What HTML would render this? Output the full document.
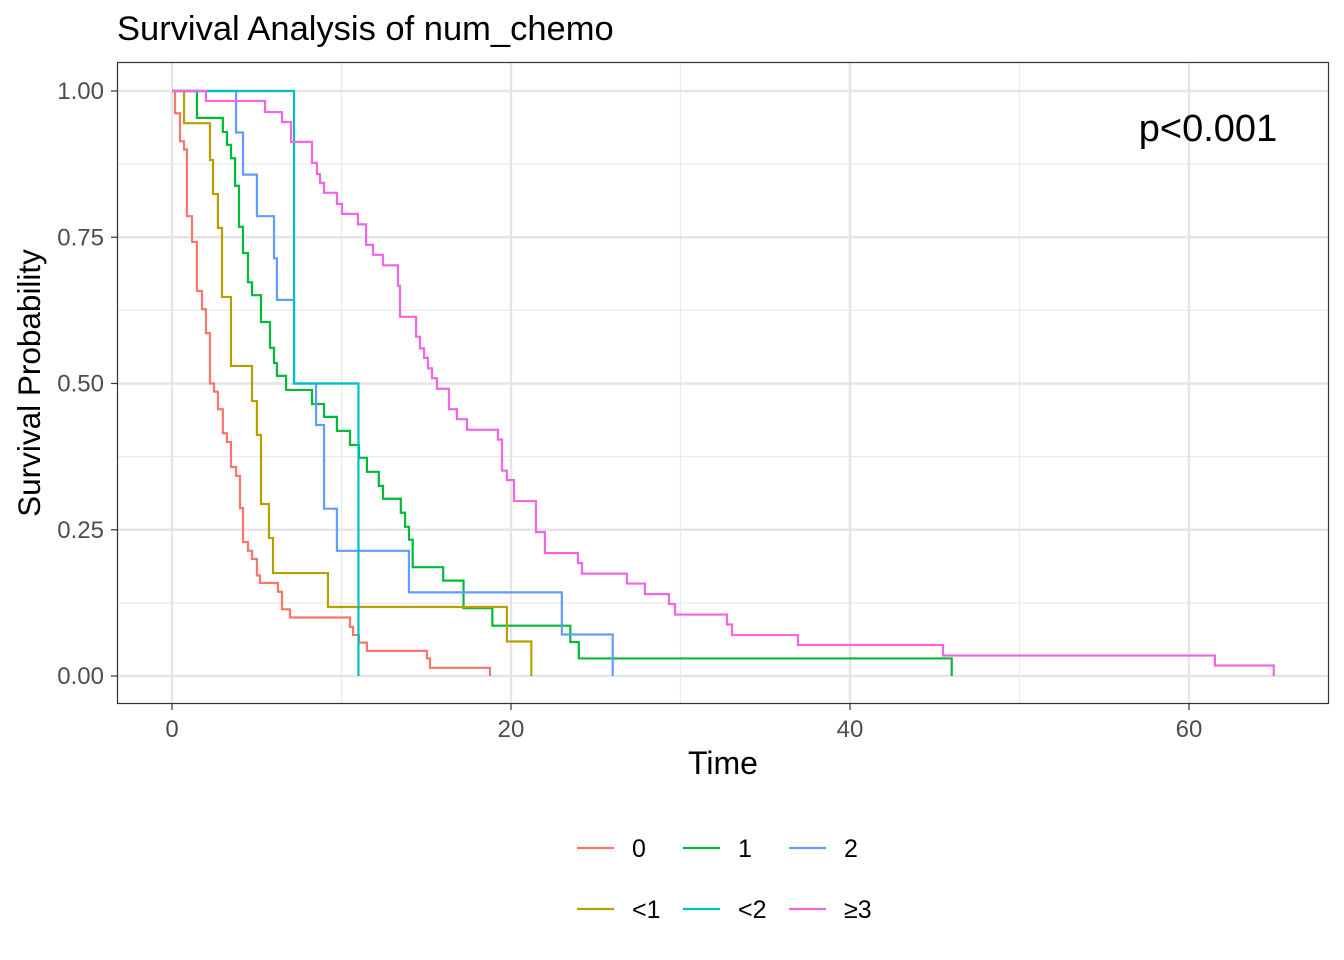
<!DOCTYPE html>
<html><head><meta charset="utf-8">
<style>
html,body{margin:0;padding:0;background:#fff;}
svg{display:block;font-family:"Liberation Sans",Arial,sans-serif;}
</style></head>
<body>
<svg id="chart" width="1344" height="960" viewBox="0 0 1344 960">
<text x="117" y="40" font-size="34.5" fill="#000">Survival Analysis of num_chemo</text>
<g id="grid"></g>
<g id="curves"></g>
<rect x="117.5" y="62.5" width="1211" height="641" fill="none" stroke="#333" stroke-width="1.2"/>
<g id="axes"></g>
<text x="1208" y="141" font-size="38" text-anchor="middle" fill="#000">p&lt;0.001</text>
<text x="723" y="774" font-size="32" text-anchor="middle" fill="#000">Time</text>
<text transform="translate(40,383) rotate(-90)" font-size="31.5" text-anchor="middle" fill="#000">Survival Probability</text>
<g id="legend"></g>
</svg>
<script>
const groups = ["0", "1", "2", "<1", "<2", "≥3"];
const colors = ["#F8766D", "#00BA38", "#619CFF", "#B79F00", "#00BFC4", "#F564E3"];
const xTicks = [0, 20, 40, 60];
const yTicks = [0, 0.25, 0.5, 0.75, 1];
const yTickLabels = ["0.00", "0.25", "0.50", "0.75", "1.00"];

const t0 = [0,0.18,0.47,0.71,0.88,1.18,1.47,1.77,2.0,2.24,2.48,2.71,3.0,3.24,3.48,3.78,4.01,4.19,4.48,4.72,5.01,5.19,6.25,6.49,6.96,10.5,10.68,11.03,11.5,15.04,15.22,18.76];
const s0 = [1,0.962,0.914,0.9,0.786,0.742,0.658,0.627,0.586,0.5,0.486,0.456,0.415,0.4,0.357,0.342,0.287,0.229,0.214,0.2,0.172,0.159,0.144,0.114,0.1,0.084,0.07,0.057,0.043,0.03,0.014,0];

const t1 = [0,1.47,3.0,3.24,3.48,3.72,3.95,4.19,4.48,4.72,5.25,5.78,6.02,6.19,6.73,8.26,8.97,9.73,10.5,11.03,11.5,12.2,12.45,13.5,13.75,13.98,14.2,16.0,17.2,18.9,23.5,24.0,46.0];
const s1 = [1,0.954,0.93,0.908,0.885,0.838,0.768,0.723,0.673,0.651,0.605,0.561,0.535,0.513,0.489,0.465,0.443,0.419,0.395,0.373,0.349,0.325,0.303,0.279,0.255,0.233,0.186,0.163,0.116,0.086,0.058,0.03,0];

const t2 = [0,3.78,4.19,5.01,6.02,6.19,7.2,8.5,8.97,9.73,13.98,23.0,26.0];
const s2 = [1,0.929,0.857,0.786,0.714,0.643,0.5,0.429,0.286,0.214,0.143,0.071,0];

const t3 = [0,0.71,2.24,2.42,2.71,2.95,3.48,4.72,5.01,5.25,5.72,5.96,9.2,19.76,21.2];
const s3 = [1,0.945,0.882,0.824,0.766,0.648,0.53,0.47,0.412,0.294,0.236,0.176,0.118,0.059,0];

const t4 = [0,7.2,11.0];
const s4 = [1,0.5,0];

const t5 = [0,2.0,5.49,6.49,7.02,8.26,8.55,8.73,8.97,9.73,10.03,10.97,11.45,11.86,12.45,13.33,13.45,14.4,14.63,14.87,15.1,15.34,15.63,16.34,16.81,17.4,19.23,19.47,19.76,20.18,21.47,22.0,23.95,24.19,26.84,27.9,29.32,29.68,32.74,33.04,36.93,45.49,61.53,65.0];
const s5 = [1,0.983,0.964,0.947,0.913,0.877,0.858,0.843,0.826,0.807,0.79,0.772,0.737,0.72,0.702,0.667,0.614,0.58,0.56,0.544,0.526,0.509,0.491,0.456,0.439,0.421,0.404,0.351,0.335,0.299,0.246,0.21,0.193,0.175,0.158,0.14,0.123,0.105,0.088,0.07,0.053,0.035,0.018,0];

const times = [t0, t1, t2, t3, t4, t5];
const survs = [s0, s1, s2, s3, s4, s5];

const NS = "http://www.w3.org/2000/svg";
function xs(t){ return 172 + t * 16.95; }
function ys(s){ return 676 - s * 585; }
function mk(tag, attrs, parent){
  const e = document.createElementNS(NS, tag);
  for (const k in attrs) e.setAttribute(k, attrs[k]);
  parent.appendChild(e);
  return e;
}
const grid = document.getElementById("grid");
const axes = document.getElementById("axes");
for (let i = 0; i < xTicks.length - 1; i++) {
  const v = (xTicks[i] + xTicks[i+1]) / 2;
  const l = mk("line", {x1: xs(v), x2: xs(v), y1: 62, y2: 704, stroke: "#ebebeb", "stroke-width": 1.2}, grid);
  
  
}
for (let i = 0; i < yTicks.length - 1; i++) {
  const v = (yTicks[i] + yTicks[i+1]) / 2;
  const l = mk("line", {x1: 117, x2: 1329, y1: ys(v), y2: ys(v), stroke: "#ebebeb", "stroke-width": 1.2}, grid);
  
  
}
xTicks.forEach(v => {
  const l = mk("line", {x1: xs(v), x2: xs(v), y1: 62, y2: 704, stroke: "#e5e5e5", "stroke-width": 2.4}, grid);
  
  
  const tk = mk("line", {x1: xs(v), x2: xs(v), y1: 704, y2: 710, stroke: "#333", "stroke-width": 1.2}, axes);
  
  
  const tx = mk("text", {x: xs(v), y: 737, "font-size": 24, "text-anchor": "middle", fill: "#4d4d4d"}, axes);
  tx.textContent = String(v);
  
  
});
yTicks.forEach((v, i) => {
  const l = mk("line", {x1: 117, x2: 1329, y1: ys(v), y2: ys(v), stroke: "#e5e5e5", "stroke-width": 2.4}, grid);
  
  
  const tk = mk("line", {x1: 111, x2: 117, y1: ys(v), y2: ys(v), stroke: "#333", "stroke-width": 1.2}, axes);
  
  
  const tx = mk("text", {x: 104, y: ys(v) + 8, "font-size": 24, "text-anchor": "end", fill: "#4d4d4d"}, axes);
  tx.textContent = yTickLabels[i];
  
  
});
const curves = document.getElementById("curves");
groups.forEach((g, gi) => {
  const t = times[gi], s = survs[gi];
  let d = "M" + xs(t[0]) + "," + ys(s[0]);
  for (let i = 1; i < t.length; i++) {
    d += " H" + xs(t[i]) + " V" + ys(s[i]);
  }
  const p = mk("path", {d: d, fill: "none", stroke: colors[gi], "stroke-width": 2.2}, curves);
  
  
});
const legend = document.getElementById("legend");
const legPos = [[577,848],[683,848],[789,848],[577,909],[683,909],[789,909]];
groups.forEach((g, gi) => {
  const [lx, ly] = legPos[gi];
  const l = mk("line", {x1: lx, x2: lx + 37, y1: ly, y2: ly, stroke: colors[gi], "stroke-width": 2.2}, legend);
  
  
  const tx = mk("text", {x: lx + 55, y: ly + 9, "font-size": 25, fill: "#000"}, legend);
  tx.textContent = g;
  
  
});
</script>
</body></html>
